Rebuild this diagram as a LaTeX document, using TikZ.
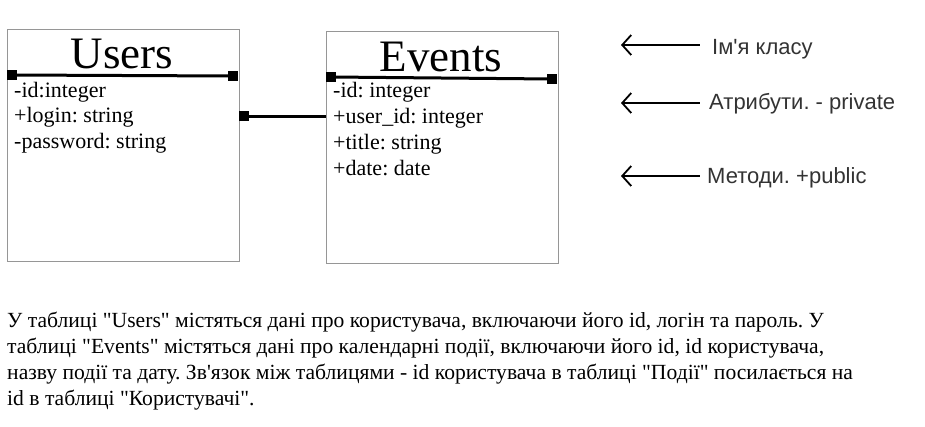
\documentclass[tikz,border=0pt]{standalone}
\usepackage{fontspec}
\setmainfont{Liberation Serif}[Ligatures=TeXOff]
\newfontfamily\notefont{Liberation Sans}[Ligatures=TeXOff]
\usepackage{tikz}
\usetikzlibrary{arrows.meta}
\definecolor{boxgray}{RGB}{150,150,150}
\definecolor{notegray}{RGB}{51,51,51}
\frenchspacing

\begin{document}
\begin{tikzpicture} [x=1pt, y=-1pt,
  classbox/.style={draw=boxgray, line width=1pt, minimum width=232pt, minimum height=232pt, inner sep=0},
  classname/.style={font=\fontsize{45}{45}\selectfont, inner sep=0, anchor=base},
  attr/.style={font=\fontsize{22}{24}\selectfont, inner sep=0, anchor=base west},
  pin/.style={fill=black, minimum size=10pt, inner sep=0},
  link/.style={black, line width=3pt},
  note/.style={font=\notefont\fontsize{22}{24}\selectfont, text=notegray, inner sep=0, anchor=west},
  hint/.style={black, line width=1.8pt, {Straight Barb[length=9pt, width=20pt]}-},
  para/.style={font=\fontsize{21.6}{26}\selectfont, align=left, inner sep=0, anchor=north west}]

\useasboundingbox [fill=white] (0,0) rectangle (925,426);

% the Users class
\node [classbox] (users) at (123,145) {};
\node [classname] (usersname) at (122,68) {Users};
\node [pin] (usersL) at (12,75) {};
\node [pin] (usersR) at (233,76) {};
\draw [link] (usersL) -- (usersR);
\foreach \t [count=\i] in {-id:integer, +login: string, -password: string}
  \node [attr] (usersattr\i) at (14,{97+(\i-1)*25.5}) {\t};

% the Events class
\node [classbox] (events) at (442,147) {};
\node [classname] (eventsname) at (441,71) {Events};
\node [pin] (eventsL) at (331,77) {};
\node [pin] (eventsR) at (552,79) {};
\draw [link] (eventsL) -- (eventsR);
\foreach \t [count=\i] in {-id: integer, +user\_id: integer, +title: string, +date: date}
  \node [attr] (eventsattr\i) at (333,{97+(\i-1)*26.3}) {\t};

% the link between the classes
\node [pin] (linkpin) at (244,116) {};
\draw [link] (linkpin) -- (linkpin -| events.west);

% the hints
\node [note] (hintname) at (712,49) {Ім'я класу};
\node [note] (hintattr) at (709,104) {Атрибути. - private};
\node [note] (hintmeth) at (707,178) {Методи. +public};
\coordinate (tipname) at (621,45);
\coordinate (tipattr) at (621,103);
\coordinate (tipmeth) at (621,176);
\draw [hint] (tipname) -- ([xshift=-12pt]hintname.west |- tipname);
\draw [hint] (tipattr) -- ([xshift=-9pt]hintattr.west |- tipattr);
\draw [hint] (tipmeth) -- ([xshift=-7pt]hintmeth.west |- tipmeth);

% the text below
\node [para] (about) at (7,312) {У таблиці "Users" містяться дані про користувача, включаючи його id, логін та пароль. У\\
таблиці "Events" містяться дані про календарні події, включаючи його id, id користувача,\\
назву події та дату. Зв'язок між таблицями - id користувача в таблиці "Події" посилається на\\
id в таблиці "Користувачі".};

\end{tikzpicture}
\end{document}
